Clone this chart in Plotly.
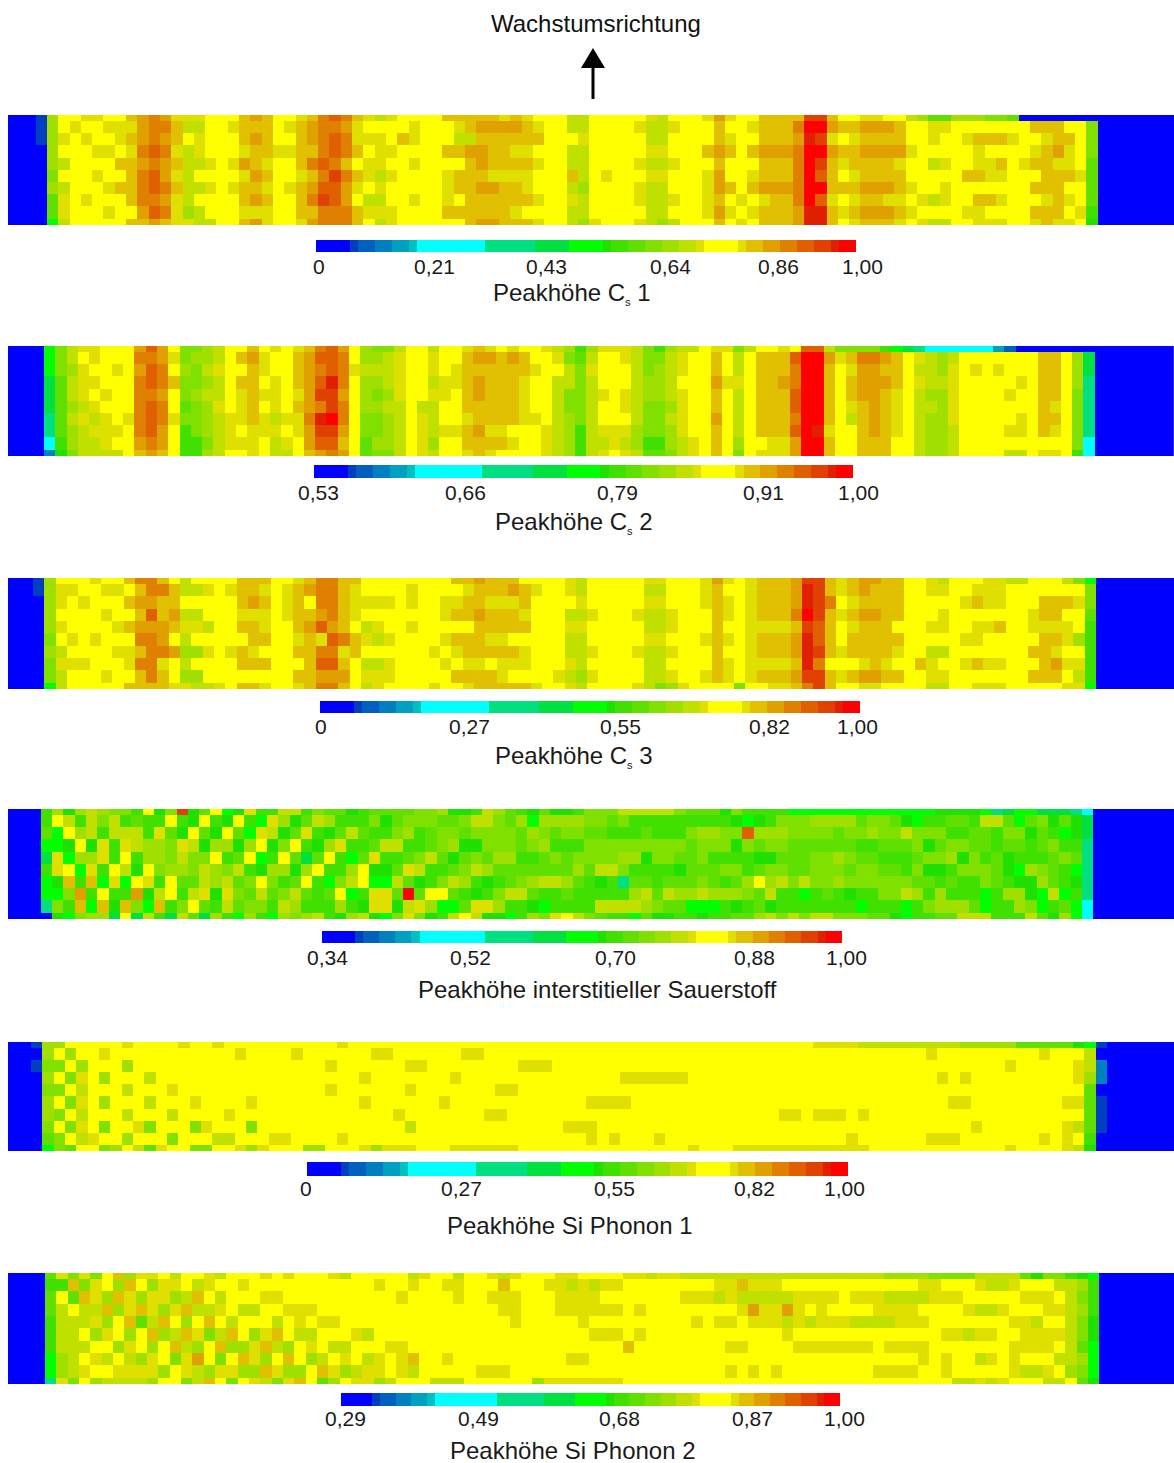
import plotly.graph_objects as go

W, H = 1174, 1463

# ---- colour levels (one letter per level, lowest to highest) ----
LEVEL_CHARS = "abcdefghjklmnopqrstuvwxyz"
LEVEL_COLORS = ["#0000ff", "#0040c0", "#0060c0", "#0080c0", "#00a0c0", "#00c0c0", "#00ffff",
                "#00e080", "#00e040", "#00ff00", "#20e000", "#40e000", "#60e000", "#80e000",
                "#a0e000", "#c0e000", "#e0e000", "#ffff00", "#e0c000", "#e0a000", "#e08000",
                "#e06000", "#e04000", "#e02000", "#ff0000"]
BAR_LEVELS = "aaaabccddeef" "gggggggg" "hhhhhh" "jjjj" "kkkk" "l" "mmnnooppqq" "r" "ssss" "r" "ttuuvvwwxx" "y" "zz"

# ---- panel data: 10 rows of 93 cells ----
P1_ROWS = [
 "pssrrsstuvurrrssstutssrtvwvtrqr" "sssstttttrtrsssqqsssssrqsssrursst" "tttxxtssrrssqpnnpppoonaaaaaaa",
 "psrssrrruvvtqqssrtttsrtuvvursss" "srsssrtuuuutrssqqssssrqqrssstssrt" "ttvzzuttuuutssrrssssssstttsso",
 "prsrssrtuvutsrssstutsstuvwvrrrs" "trsssqqttttttsssrsssssqqsssstrsst" "ttuyxrsrttttssrssrtttrssrttso",
 "psssrrsrvwvrqrsssrttrrttvwvtsrr" "ssssttuuttrrsssqqsssssrrssstutstu" "uuvzzuttuuuursssssrssssrturso",
 "pqssssttuvutqqrsrutrsstvwvtsrrs" "srsssstuttttrssqqssssrqqrssstssst" "ttvzxtrttttrssqrssrrtsrttrrsn",
 "osssrsstvwurqssssrutssrtvxvtrqr" "ssssrtttrrrrssstqsrsssrrsssrussrt" "ttvzwtsrttttsssssttrrssstttrn",
 "pqsssrttvwvtqqrsrttrsrtuwwursrs" "ssssrttuuttrsssqpssssrqqsssrutstu" "uuvzztttuuutrssrssssssstttssn",
 "nrsrssstvvurqsssstutsstvxwusqqs" "srssrsttttttrssrqssssrqqrssrtsrsr" "ttvzwrsrttrrsrqrssttrsssrtrsn",
 "nrsssrssuwvrpqsssrrrssttvvvtrrr" "ssssttttttrssssqqsssssqqsssrursrt" "ttuyytrtuuutrssssrrssssttt" "srm",
 "kqsssssttutrrqqssturssruvvvtsqr" "sssssstuutttrssqprsssrqpqssstsrst" "ttuyytsrtttrsrqqssrrrssrtrrsl",
]
P1_LEFT = "bbbaaaaaaa"

P2_ROWS = [
 "koqrrsssuwusoopqsstsrsrtvwuspooqssqssrtrsrssrqp" "mprrrqompqqsrroqssrswwqoooomkjhggggggecaaaaaaa",
 "koqsrsssvvuroppqstursstuwwvsppqrssrsstuututssro" "nqssrqooqrsstsqstttwzzurtvvutsrqpq" "sssssss" "ttspj",
 "koprssrsuwvspoqrsstrsstuvwvrqqqrssrsrttttttrssq" "orsssqopqrss" "tsqs" "tttv" "zzts" "ruut" "tsqq" "pr" "srsrsss" "ttspj",
 "jnqrrsssvwvtoopqsttsrstuwyvsppqrssqrrtutttrssqq" "oqsssqppqsss" "urrs" "ttuv" "zzts" "tuuu" "tsrq" "qr" "sssssrs" "ttsph",
 "jnqrsrss" "vvus" "opqq" "srt" "rrsr" "uxxu" "spop" "rss" "rrs" "tu" "ttt" "rss" "qo" "oqrsrqppqrss" "tsqs" "tttw" "zzts" "tuut" "rsqp" "pr" "ssssrss" "ttsoh",
 "jnpqr" "sss" "vwvs" "nopr" "srtsrstu" "vxvs" "ppqqsqqss" "ttttt" "rssqo" "oqssrqooprss" "tsqs" "tttw" "zzts" "rtut" "rsqq" "pr" "sssssss" "trsoh",
 "hnqrqrsr" "vwvr" "oopq" "rrt" "rqrr" "vyzv" "s" "oopq" "srq" "ss" "r" "tttt" "rrs" "qp" "oqsssqooqrss" "usqs" "tttv" "zzts" "qtut" "rsqp" "pr" "sssssrs" "ttsoh",
 "hnpqrrrs" "vwus" "mopq" "rsr" "rrsr" "uxxu" "s" "oopq" "srq" "rr" "t" "urrsssrqp" "mqrrrpooprss" "tsqs" "tttw" "zyrs" "stut" "rsqp" "pq" "ssssrrs" "trsoh",
 "gmpqqrss" "uvus" "mmoq" "rrr" "sqrs" "uwwt" "s" "nppq" "srp" "ss" "ttttrssrqp" "mqqrqpmmpqrs" "tsps" "srru" "zzts" "sttt" "ssqp" "pq" "ssssssssss" "og",
 "dloqqqqs" "tuts" "mmpq" "ssr" "sqqs" "tuvu" "s" "nooq" "srq" "ss" "r" "trssss" "rqp" "mqrsrqnnoqrs" "tsos" "rrru" "zzts" "sttt" "ssqp" "pq" "ssssqqs" "rrsmg",
]

P3_ROWS = [
 "psssrsstvv" "tsqssssttt" "ssrtvvttss" "ssssssttut" "ttssssrqss" "sssrrsssru" "rsrtttuxxt" "rtuuttssrq" "sssrrqqsss" "qok",
 "prrssrrstv" "vtqqrsrttr" "srtuvvtrss" "ssrssssrtt" "tutrssrqss" "sssqqsssrt" "ssrtttuyxt" "rtutttssrr" "ssrrrsssss" "sso",
 "prsrssstuu" "ttssssstut" "srtsvvtrrr" "rsrssrrttr" "rrtssssrss" "sssrrsssrt" "rsrtttuyxv" "srttttssss" "srtrrssstt" "tro",
 "pssssrsstw" "tuqqsssrrr" "srttuvtrss" "sssssrttut" "ttrsssqqrs" "ssrqqrssst" "rsrtttvzxt" "rtuuttsssr" "sssssssrtt" "ssn",
 "prssssrtuu" "utrrqssttr" "sstuwutsqr" "ssrssssstt" "tttsssrrss" "sssqqrssst" "ssrrrrtxwt" "srtttsssrr" "ssrrtssrrr" "rsm",
 "osrsrsssvv" "usqssssstt" "ssrtrwvtrq" "rssssrtttr" "rsssssqqss" "sssrrsssrt" "rsrtttuywt" "stttttssss" "srrssssstt" "rpm",
 "pqssssrrtv" "vupprsrtrs" "ssttvvrtss" "ssssrsrttt" "ttrsssqqrs" "ssrqqrssst" "ssrtttuyxt" "rttttrssqq" "sssssssttr" "ssm",
 "orrrsssrvv" "rsqssssttt" "ssstwwtsqq" "rssssrsrrs" "rrrsssrqss" "sssqqsssst" "rsrrrrtyvs" "ssrtrsstrs" "srtrrssstu" "rrm",
 "oqsssrsstv" "tsppssssss" "ssttuuusrr" "rssssstttt" "rssssrqprs" "sssqqrssrt" "rsrtttuxxt" "rtuuttssrr" "sssssssttt" "sqm",
 "kqsssssttt" "trrqqrsttr" "ssrtvvtsqr" "ssssrssrtt" "tttrssrqss" "ssrqoprsss" "sossrrtvxt" "ssrrssssqq" "ssrrrsssss" "rrk",
]
P3_LEFT = "bbaaaaaaaa"

P4_ROWS = [
 "mplpqpoomsloxlnsklrmmqqmonnlmnnn" "noop" "llm" "qpnmlnllm" "ooo" "qqqqq" "o" "nnn" "l" "o" "mmmm" "kkkkkkkkkkkkk" "llll" "khjkkjjjhg",
 "msqmqoqmnmmsmlsmlsmkrplnqpmmmoln" "ooonno" "qqonpk" "pppp" "oono" "mmmmmmmmm" "lklm" "ooo" "pppp" "noon" "lk" "mmnnm" "qq" "nknolnlj",
 "nkspqmqqqmrnlsnlsnkrqlnrmlnqnmmo" "pmnoonoooonponoonnmmmnmmmoppoowpppoooonoopooqooommnnmoolnmklj",
 "kklslrmrqpporqlpplpslosmlprmmnqq" "mmnopllooonopmmm" "ooooooooo" "nooolonoo" "nnnnnnmmnnnolnoonnm" "nnmnommh",
 "jrkpprmsmppoqoosmnskmsnjnsmknrmm" "noqnlnonppmmnon" "oooo" "pploonno" "mmmm" "ll" "nnn" "oo" "p" "o" "nn" "mmm" "n" "oo" "p" "l" "o" "m" "n" "l" "mmm" "n" "o" "n" "h",
 "mrskrmsqlsoppoqpoqmlpplpsmmpslln" "rqmmnoqp" "nnnnnnn" "pnqqo" "mmmm" "l" "nnn" "oo" "m" "n" "oo" "nn" "ooo" "n" "oo" "nn" "m" "o" "ll" "m" "ooo" "n" "lkponmkh",
 "kltmtkrksrmsnnqpqnosomnsmkoqskkq" "nlmoqpmlmnopqqpnml" "m" "h" "nn" "m" "nnn" "o" "n" "m" "n" "p" "s" "p" "q" "o" "q" "oo" "p" "oooooo" "nn" "m" "n" "mm" "o" "n" "m" "ll" "p" "n" "m" "l" "h",
 "kkoumsmmulqsmqrlronqnoqnmnskmrrn" "znssnmlmoqqnmmn" "mmmmm" "pqnq" "pp" "qppp" "onq" "mm" "k" "mnm" "l" "mm" "oo" "qp" "m" "p" "mmm" "k" "m" "pp" "lkqkmh",
 "homtktltoktmosnmqnoomqpmmmpmlrrl" "qrpkknrrpmmlk" "mmmm" "qqqq" "po" "nn" "kkk" "mlmnl" "mmmmmmm" "k" "mmm" "k" "m" "o" "ppp" "n" "k" "mm" "pokmnkg",
 "alkoppjsjqmjqnjpmkpmkpopqmlpqlko" "rolmqsqllkmporsqonmmknllmmlmmnnpqoqoqqooonnlkmmnnqqqmmmqnlpkg",
]

# panel 5 is nearly all yellow: (first column, cells that differ), row by row
P5_BASE = "s"
P5_MARKS = [
 [(0, "pp"), (7, "r"), (12, "r"), (15, "r"), (26, "r"), (68, "rrrr"), (72, "qqqqqqqqq"), (81, "ppppp"), (86, "nnnnn"), (91, "lk")],
 [(0, "p"), (2, "p"), (5, "r"), (17, "r"), (22, "r"), (29, "rr"), (37, "rr"), (78, "r"), (88, "r"), (92, "q")],
 [(0, "oo"), (3, "p"), (7, "p"), (25, "r"), (32, "rr"), (42, "rrr"), (85, "r"), (91, "r"), (92, "q")],
 [(0, "p"), (2, "or"), (5, "p"), (9, "q"), (28, "r"), (36, "r"), (51, "rrrrrr"), (79, "r"), (81, "r"), (91, "r"), (92, "p")],
 [(0, "oo"), (3, "q"), (7, "q"), (11, "r"), (25, "r"), (32, "r"), (40, "rr"), (92, "n")],
 [(0, "p"), (2, "or"), (5, "p"), (9, "q"), (13, "r"), (18, "r"), (28, "r"), (35, "r"), (48, "rrrr"), (80, "rr"), (90, "rr"), (92, "n")],
 [(0, "po"), (3, "q"), (7, "q"), (11, "q"), (16, "r"), (31, "r"), (39, "rr"), (65, "rr"), (68, "rrr"), (72, "r"), (92, "n")],
 [(0, "o"), (2, "or"), (5, "o"), (8, "ro"), (13, "or"), (18, "o"), (32, "q"), (46, "rrr"), (82, "r"), (90, "rq"), (92, "n")],
 [(0, "no"), (3, "qr"), (7, "p"), (11, "o"), (15, "qq"), (20, "rr"), (26, "r"), (48, "r"), (50, "r"), (54, "r"), (71, "r"), (78, "rrr"), (88, "r"), (90, "r"), (92, "m")],
 [(0, "kon"), (5, "op"), (8, "qnr"), (13, "oo"), (17, "rpr"), (23, "pp"), (28, "rp"), (30, "rrr"), (36, "rrrrrr"), (57, "r"), (61, "rrrrrrrrrrrr"), (85, "r"), (90, "rq"), (92, "l")],
]
P5_LEFT = "babaaaaaaa"
P5_RIGHT = "baddabbbaa"

P6_ROWS = [
 "nrorostprrsqssrqsssrsrsssrqsssss" "qrssqssrqrsssrrssssrrqrr" + "q" * 18 + "ppppoooo" "qqqq" "nloomlk",
 "mmtorsptsprrsqrssr" + "s" * 11 + "rss" "rssrrssstsss" "rrqrqrr" "ssssssss" "rrtrrr" + "s" * 12 + "rr" "sss" "rqqr" "sss" "qqpm",
 "nsntrptrprrpqtsqsss" "rr" + "s" * 10 + "r" "ssssrssrrrsss" "rrrr" "sssssss" "rrr" "qr" "qqqqq" "rrrr" "s" "rrr" "qqqq" "rrr" "sssss" "rrr" "sqom",
 "nqsqqtprtrprtqqrsqqssrrr" "ssssssss" "ssssssss" "rr" "sss" "rrrrrr" "s" "r" "ssssssss" "r" "u" "rr" "u" "r" "s" "r" "ssss" "rrrr" "ssss" "r" "qq" "r" "sss" "rr" "qpm",
 "mqqqrpstnqtspstsqsssqsrsrr" "ssssss" "sssssssss" "r" "sssss" "r" "sssssssss" "r" "s" "rr" "s" "rrr" "q" "r" "q" "rrr" "qqqq" "rrr" "sssssss" "rr" "q" "ss" "qol",
 "mqqsprspstpqtroqtsprtsqqsssrqsss" + "s" * 16 + "rrr" "s" "r" + "s" * 12 + "r" + "s" * 13 + "rr" "q" "rr" "ss" "rrrr" "qol",
 "mqqqssprspstqpstpprtqpsrsqqsssrr" + "s" * 19 + "t" + "s" * 8 + "rr" "ssss" + "r" * 7 + "s" "rrrr" + "s" * 7 + "rrrr" "s" "qnk",
 "kpqsrqsqprsorusostrpstspqsrsqrsr" "t" "ss" "r" + "s" * 10 + "rr" + "s" * 29 + "r" "s" "r" "ss" "q" "r" "s" "r" "sss" "qq" "pk",
 "kpqrssrrrrpsrqprrpptrppstrpqrrsr" "q" "sssss" "rrr" + "s" * 19 + "r" "s" "r" "s" "r" + "s" * 8 + "rrrr" "ss" "r" "sssss" "r" "qq" "r" "s" "pok",
 "hrospqqqqpssoqtsosrqortsnpsrrpqs" "ss" "qqq" + "s" * 6 + "p" + "r" * 7 + "s" * 29 + "qq" "r" "q" "r" "sss" "qq" "s" "nl",
]

# ---- text ----
TICKS_1 = ["0", "0,21", "0,43", "0,64", "0,86", "1,00"]
TICKS_2 = ["0,53", "0,66", "0,79", "0,91", "1,00"]
TICKS_3 = ["0", "0,27", "0,55", "0,82", "1,00"]
TICKS_4 = ["0,34", "0,52", "0,70", "0,88", "1,00"]
TICKS_5 = ["0", "0,27", "0,55", "0,82", "1,00"]
TICKS_6 = ["0,29", "0,49", "0,68", "0,87", "1,00"]
SUB = '<sub><span style="font-size:11px">s</span></sub>'
TITLES = ["Peakhöhe C" + SUB + " 1", "Peakhöhe C" + SUB + " 2", "Peakhöhe C" + SUB + " 3",
          "Peakhöhe interstitieller Sauerstoff", "Peakhöhe Si Phonon 1", "Peakhöhe Si Phonon 2"]
HEADER = "Wachstumsrichtung"

# ---- layout, in page pixels ----
CELL = 11.3
PAGE_LEFT = 8
P5_ROWS = []
for marks in P5_MARKS:
    r = [P5_BASE] * 93
    for c, t in marks:
        for i, ch in enumerate(t):
            r[c + i] = ch
    P5_ROWS.append("".join(r))

PANELS = [
 dict(rows=P1_ROWS, left=P1_LEFT, right=None, x0=47, x1=1098, y0=115, y1=225, bar=(316, 856, 240, 252),
      ticks=TICKS_1, tick_x=[319, 434, 546, 670, 778, 862], tick_y=266, title_x=572, title_y=293),
 dict(rows=P2_ROWS, left=None, right=None, x0=44, x1=1095, y0=346, y1=456, bar=(314, 853, 465, 478),
      ticks=TICKS_2, tick_x=[318, 466, 617, 763, 858], tick_y=493, title_x=574, title_y=522),
 dict(rows=P3_ROWS, left=P3_LEFT, right=None, x0=44.4, x1=1096, y0=578, y1=689, bar=(320, 860, 701, 713),
      ticks=TICKS_3, tick_x=[321, 469, 620, 769, 857], tick_y=726, title_x=574, title_y=757),
 dict(rows=P4_ROWS, left=None, right=None, x0=40.7, x1=1093, y0=809, y1=919, bar=(322, 842, 931, 943),
      ticks=TICKS_4, tick_x=[327, 470, 615, 754, 846], tick_y=957, title_x=597, title_y=989),
 dict(rows=P5_ROWS, left=P5_LEFT, right=P5_RIGHT, x0=42.3, x1=1096, y0=1042, y1=1151, bar=(307, 848, 1162, 1176),
      ticks=TICKS_5, tick_x=[306, 461, 614, 754, 845], tick_y=1188, title_x=570, title_y=1225),
 dict(rows=P6_ROWS, left=None, right=None, x0=45, x1=1099.5, y0=1273, y1=1384, bar=(341, 840, 1393, 1406),
      ticks=TICKS_6, tick_x=[345, 478, 619, 752, 845], tick_y=1418, title_x=573, title_y=1450),
]

bad = [(i, j, len(r)) for i, p in enumerate(PANELS) for j, r in enumerate(p["rows"]) if len(r) != 93]
assert not bad, bad

def fx(px):
    return px / W

def fy(px):
    return 1 - px / H

n = len(LEVEL_CHARS)
scale = []
for i, c in enumerate(LEVEL_COLORS):
    scale += [[i / n, c], [(i + 1) / n, c]]

def lev(s):
    return [LEVEL_CHARS.index(ch) for ch in s]

fig = go.Figure()
layout = dict(
    width=W, height=H, margin=dict(l=0, r=0, t=0, b=0, pad=0), autosize=False,
    paper_bgcolor="white", plot_bgcolor="white", showlegend=False,
    font=dict(family="Liberation Sans, Arial, sans-serif", color="#1a1a1a", size=21),
    coloraxis=dict(colorscale=scale, cmin=-0.5, cmax=n - 0.5, showscale=False),
)
ann = []
hidden = dict(visible=False, fixedrange=True)
k = 1
for p in PANELS:
    cols = 93
    w = (p["x1"] - p["x0"]) / cols
    nl = int((p["x0"] - PAGE_LEFT) / w) + 1
    nr = int((W - p["x1"]) / w) + 1
    z = []
    for ri, row in enumerate(p["rows"]):
        lpad = "a" * nl
        if p["left"]:
            lpad = "a" * (nl - 1) + p["left"][ri]
        rpad = "a" * nr
        if p["right"]:
            rpad = p["right"][ri] + "a" * (nr - 1)
        z.append(lev(lpad + row + rpad))
    xs = list(range(-nl, cols + nr))
    ax_x, ax_y = ("x", "y") if k == 1 else (f"x{k}", f"y{k}")
    fig.add_trace(go.Heatmap(z=z, x=xs, y=list(range(10)), coloraxis="coloraxis",
                             xaxis=ax_x, yaxis=ax_y, hoverinfo="skip"))
    s = "" if k == 1 else str(k)
    layout["xaxis" + s] = dict(domain=[fx(PAGE_LEFT), 1],
                               range=[-0.5 - (p["x0"] - PAGE_LEFT) / w, cols - 0.5 + (W - p["x1"]) / w],
                               anchor="y" + s, **hidden)
    layout["yaxis" + s] = dict(domain=[fy(p["y1"]), fy(p["y0"])], range=[9, 0], anchor="x" + s, **hidden)
    k += 1
    # colour bar under the panel
    bx0, bx1, by0, by1 = p["bar"]
    s = str(k)
    fig.add_trace(go.Heatmap(z=[lev(BAR_LEVELS)], x=list(range(len(BAR_LEVELS))), y=[0], coloraxis="coloraxis",
                             xaxis="x" + s, yaxis="y" + s, hoverinfo="skip"))
    layout["xaxis" + s] = dict(domain=[fx(bx0), fx(bx1)], range=[-0.5, len(BAR_LEVELS) - 0.5], anchor="y" + s, **hidden)
    layout["yaxis" + s] = dict(domain=[fy(by1), fy(by0)], range=[-0.5, 0.5], anchor="x" + s, **hidden)
    k += 1
    for t, tx in zip(p["ticks"], p["tick_x"]):
        ann.append(dict(text=t, x=fx(tx), y=fy(p["tick_y"]), xref="paper", yref="paper", showarrow=False,
                        xanchor="center", yanchor="middle", font=dict(size=21)))
for p, t in zip(PANELS, TITLES):
    ann.append(dict(text=t, x=fx(p["title_x"]), y=fy(p["title_y"]), xref="paper", yref="paper", showarrow=False,
                    xanchor="center", yanchor="middle", font=dict(size=24)))
ann.append(dict(text=HEADER, x=fx(596), y=fy(23), xref="paper", yref="paper", showarrow=False,
                xanchor="center", yanchor="middle", font=dict(size=24, color="#111111")))
layout["annotations"] = ann
layout["shapes"] = [
    dict(type="line", xref="paper", yref="paper", x0=fx(593), x1=fx(593), y0=fy(99), y1=fy(66),
         line=dict(color="black", width=3)),
    dict(type="path", xref="paper", yref="paper", fillcolor="black", line=dict(width=0),
         path=f"M {fx(581)} {fy(68)} L {fx(593)} {fy(48)} L {fx(605)} {fy(68)} Z"),
]
fig.update_layout(**layout)
fig.write_html("out.html", config=dict(displayModeBar=False),
               post_script="document.body.style.margin='0';document.body.style.overflow='hidden';")
